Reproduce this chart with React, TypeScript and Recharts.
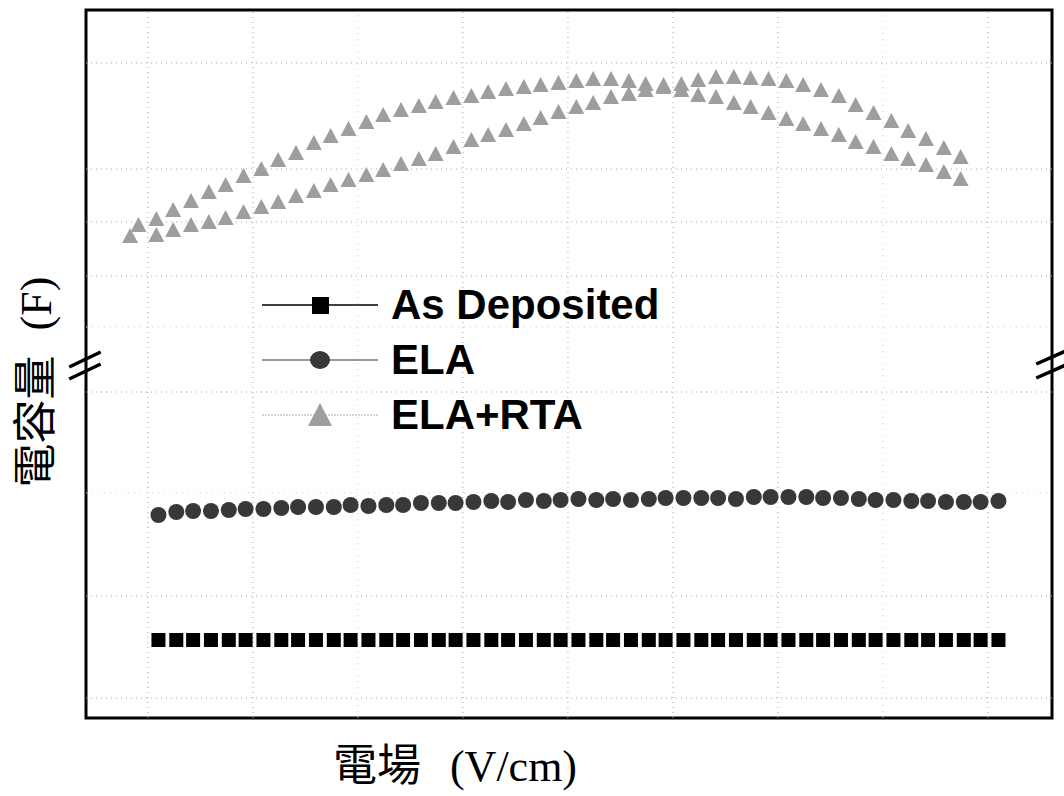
import React from "react";
import {
  ScatterChart,
  Scatter,
  XAxis,
  YAxis,
  ReferenceLine,
  ReferenceArea,
  Legend,
} from "recharts";

// field sweep positions (grid units, no tick labels on the original)
const sweepField = [
  0.1, 0.27, 0.43, 0.6, 0.77, 0.93, 1.1, 1.27, 1.43, 1.6, 1.77, 1.93,
  2.1, 2.27, 2.43, 2.6, 2.77, 2.93, 3.1, 3.27, 3.43, 3.6, 3.77, 3.93,
  4.1, 4.27, 4.43, 4.6, 4.77, 4.93, 5.1, 5.27, 5.43, 5.6, 5.77, 5.93,
  6.1, 6.27, 6.43, 6.6, 6.77, 6.93, 7.1, 7.27, 7.43, 7.6, 7.77, 7.93, 8.1,
];

const rtaField = [
  -0.09, 0.08, 0.24, 0.41, 0.58, 0.74, 0.91, 1.08, 1.24, 1.41, 1.58, 1.74,
  1.91, 2.08, 2.24, 2.41, 2.58, 2.74, 2.91, 3.08, 3.24, 3.41, 3.58, 3.74,
  3.91, 4.08, 4.24, 4.41, 4.58, 4.74, 4.91, 5.08, 5.24, 5.41, 5.58, 5.74,
  5.91, 6.08, 6.24, 6.41, 6.58, 6.74, 6.91, 7.08, 7.24, 7.41, 7.58, 7.74,
];

const asDeposited = [
  7.8, 7.8, 7.8, 7.8, 7.8, 7.8, 7.8, 7.8, 7.8, 7.8, 7.8, 7.8, 7.8, 7.8,
  7.8, 7.8, 7.8, 7.8, 7.8, 7.8, 7.8, 7.8, 7.8, 7.8, 7.8, 7.8, 7.8, 7.8,
  7.8, 7.8, 7.8, 7.8, 7.8, 7.8, 7.8, 7.8, 7.8, 7.8, 7.8, 7.8, 7.8, 7.8,
  7.8, 7.8, 7.8, 7.8, 7.8, 7.8, 7.8,
];

const ela = [
  20.3, 20.6, 20.7, 20.7, 20.8, 20.9, 20.9, 21.0, 21.1, 21.1, 21.1, 21.3,
  21.2, 21.3, 21.3, 21.5, 21.5, 21.5, 21.6, 21.7, 21.6, 21.8, 21.7, 21.8,
  21.9, 21.8, 21.9, 21.8, 21.9, 22.0, 22.0, 22.0, 22.0, 21.9, 22.1, 22.1,
  22.1, 22.1, 22.0, 22.0, 21.9, 21.8, 21.8, 21.7, 21.7, 21.6, 21.6, 21.6, 21.7,
];

// ELA+RTA, two sweep directions (hysteresis)
const rtaForward = [
  48.2, 49.3, 49.9, 50.8, 51.7, 52.6, 53.3, 54.2, 54.9, 55.8, 56.5, 57.5,
  58.2, 58.9, 59.6, 60.3, 60.8, 61.2, 61.6, 62.0, 62.2, 62.6, 62.9, 63.1,
  63.3, 63.5, 63.7, 63.9, 63.9, 63.7, 63.4, 63.3, 62.8, 62.3, 62.1, 61.5,
  61.1, 60.5, 59.9, 59.4, 58.9, 58.3, 57.6, 57.1, 56.4, 55.9, 55.3, 54.6, 53.9,
];
const rtaReverse = [
  48.3, 48.8, 49.3, 49.6, 50.0, 50.6, 51.1, 51.6, 52.2, 52.7, 53.3, 53.8,
  54.3, 54.8, 55.4, 55.9, 56.4, 57.1, 57.8, 58.3, 58.8, 59.4, 60.0, 60.6,
  61.1, 61.5, 62.1, 62.4, 62.8, 63.1, 63.4, 63.8, 64.1, 64.1, 64.0, 63.9,
  63.7, 63.3, 62.8, 62.2, 61.3, 60.5, 59.7, 58.7, 57.9, 57.0, 56.1,
];

const majorX = [0, 1, 3, 4, 5, 6, 8];
const minorX = [2, 7];
const majorY = [2.0, 12.2, 32.6, 44.2, 49.6, 54.9, 65.5];
const minorY = [22.5, 39.1];

const X_DOMAIN = [-0.59, 8.61];
const Y_DOMAIN = [0, 70.8];

// axis break slashes
const breakMarks = [
  [{ x: -0.75, y: 35.1 }, { x: -0.45, y: 36.6 }],
  [{ x: -0.75, y: 33.9 }, { x: -0.45, y: 35.4 }],
  [{ x: 8.46, y: 35.4 }, { x: 8.74, y: 36.7 }],
  [{ x: 8.46, y: 34.0 }, { x: 8.74, y: 35.3 }],
];

const zip = (xs: number[], ys: number[]) => ys.map((y, i) => ({ x: xs[i], y }));

const depData = zip(sweepField, asDeposited);
const elaData = zip(sweepField, ela);
const fwdData = zip([-0.17, ...rtaField], rtaForward);
const revData = zip(rtaField.slice(1), rtaReverse);

const SQ = "#000000";
const CIR = "#383838";
const TRI = "#9e9e9e";

const Square = (p: any) => (
  <rect x={p.cx - 7} y={p.cy - 7} width={14} height={14} fill={SQ} />
);
const Dot = (p: any) => <circle cx={p.cx} cy={p.cy} r={8} fill={CIR} />;
const Tri = (p: any) => (
  <polygon
    points={`${p.cx},${p.cy - 8} ${p.cx + 8},${p.cy + 7} ${p.cx - 8},${p.cy + 7}`}
    fill={TRI}
  />
);

const legendRows = [
  { name: "As Deposited", line: "#000", lw: 1.6, dash: undefined, kind: "square" },
  { name: "ELA", line: "#333", lw: 1.2, dash: undefined, kind: "circle" },
  { name: "ELA+RTA", line: "#aaa", lw: 1, dash: "2 1", kind: "triangle" },
];

const renderLegend = () => (
  <div>
    {legendRows.map((r) => (
      <div key={r.name} style={{ display: "flex", alignItems: "center", height: 55 }}>
        <svg width={116} height={30}>
          <line x1={0} x2={116} y1={15} y2={15} stroke={r.line} strokeWidth={r.lw} strokeDasharray={r.dash} />
          {r.kind === "square" && <rect x={50} y={7} width={17} height={17} fill={SQ} />}
          {r.kind === "circle" && <ellipse cx={58} cy={15} rx={10} ry={9} fill={CIR} />}
          {r.kind === "triangle" && <polygon points="58,3 70,26 46,26" fill={TRI} />}
        </svg>
        <span
          style={{
            marginLeft: 13,
            font: "bold 42px 'Liberation Sans', Arial, sans-serif",
            lineHeight: "55px",
            color: "#000",
            whiteSpace: "nowrap",
          }}
        >
          {r.name}
        </span>
      </div>
    ))}
  </div>
);

const labelFont = "'Liberation Serif', 'Noto Sans CJK TC', serif";

export default function App() {
  return (
    <div style={{ position: "absolute", left: 0, top: 0, width: 1064, height: 796, background: "#fff" }}>
      <ScatterChart width={1064} height={796} margin={{ top: 10, left: 86, right: 12, bottom: 78 }}>
        <XAxis
          type="number"
          dataKey="x"
          domain={X_DOMAIN}
          tick={false}
          tickLine={false}
          axisLine={false}
          height={0}
          allowDataOverflow
        />
        <YAxis
          type="number"
          dataKey="y"
          domain={Y_DOMAIN}
          tick={false}
          tickLine={false}
          axisLine={false}
          width={0}
          allowDataOverflow
        />
        {majorX.map((v) => (
          <ReferenceLine key={"gx" + v} x={v} stroke="#a8a8a8" strokeDasharray="1 4" />
        ))}
        {majorY.map((v) => (
          <ReferenceLine key={"gy" + v} y={v} stroke="#a8a8a8" strokeDasharray="1 4" />
        ))}
        {minorX.map((v) => (
          <ReferenceLine key={"mx" + v} x={v} stroke="#cfcfcf" strokeDasharray="1 5" />
        ))}
        {minorY.map((v) => (
          <ReferenceLine key={"my" + v} y={v} stroke="#cfcfcf" strokeDasharray="1 5" />
        ))}
        <Legend
          layout="vertical"
          align="center"
          verticalAlign="middle"
          wrapperStyle={{ left: 262, top: 277, width: 460, height: 165 }}
          content={renderLegend}
        />
        <Scatter name="As Deposited" data={depData} shape={Square} isAnimationActive={false} />
        <Scatter name="ELA" data={elaData} shape={Dot} isAnimationActive={false} />
        <Scatter name="ELA+RTA" data={fwdData} shape={Tri} isAnimationActive={false} />
        <Scatter name="ELA+RTA reverse" legendType="none" data={revData} shape={Tri} isAnimationActive={false} />
        <ReferenceArea
          x1={X_DOMAIN[0]}
          x2={X_DOMAIN[1]}
          y1={Y_DOMAIN[0]}
          y2={Y_DOMAIN[1]}
          fill="none"
          stroke="#000"
          strokeWidth={3}
          ifOverflow="visible"
        />
        {breakMarks.map((seg, i) => (
          <ReferenceLine key={"b" + i} segment={seg} stroke="#000" strokeWidth={3.5} ifOverflow="visible" />
        ))}
      </ScatterChart>
      <div
        style={{
          position: "absolute",
          left: 255,
          top: 745,
          width: 400,
          textAlign: "center",
          fontFamily: labelFont,
          fontSize: 44,
          lineHeight: "44px",
          wordSpacing: 18,
          color: "#000",
          whiteSpace: "nowrap",
        }}
      >
        電場 (V/cm)
      </div>
      <div
        style={{
          position: "absolute",
          left: 37 - 150,
          top: 382 - 25,
          width: 300,
          height: 50,
          textAlign: "center",
          fontFamily: labelFont,
          fontSize: 44,
          lineHeight: "50px",
          wordSpacing: 14,
          color: "#000",
          whiteSpace: "nowrap",
          transform: "rotate(-90deg)",
        }}
      >
        電容量 (F)
      </div>
    </div>
  );
}
